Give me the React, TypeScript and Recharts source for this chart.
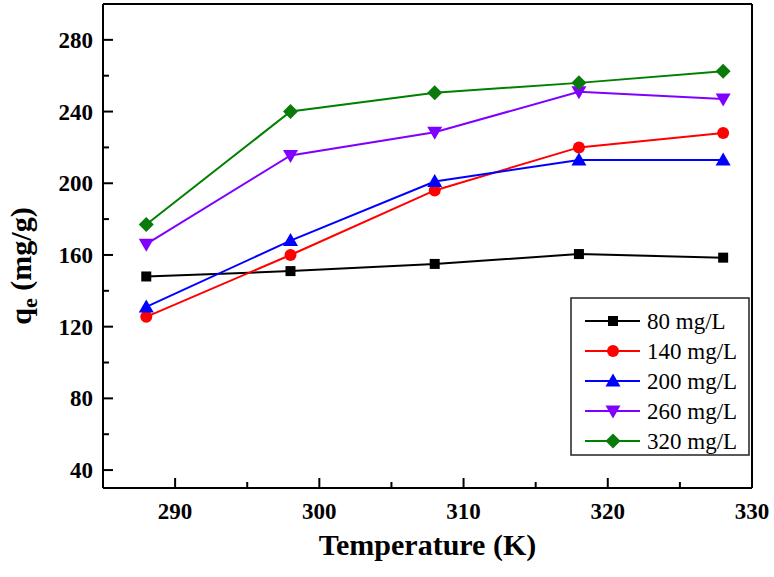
import React from 'react';
import { LineChart, Line, XAxis, YAxis, Legend, ReferenceLine } from 'recharts';

const temperatures = [288, 298, 308, 318, 328];
const c80 = [148, 151, 155, 160.5, 158.5];
const c140 = [125.5, 160, 196, 220, 228];
const c200 = [131, 168, 201, 213, 213];
const c260 = [166, 215.5, 228.5, 251, 247];
const c320 = [177, 240, 250.5, 256, 262.5];

const seriesNames = ['80 mg/L', '140 mg/L', '200 mg/L', '260 mg/L', '320 mg/L'];
const seriesKeys = ['c80', 'c140', 'c200', 'c260', 'c320'];
const seriesValues = [c80, c140, c200, c260, c320];
const seriesColors = ['#000000', '#ff0000', '#0000ff', '#8000ff', '#008000'];
const markerFills = ['#000000', '#ff0000', '#0000ff', '#8000ff', '#0a7a0a'];
const seriesShapes = ['square', 'circle', 'triangle', 'down', 'diamond'];

const xTicks = [290, 295, 300, 305, 310, 315, 320, 325, 330];
const yTicks = [40, 60, 80, 100, 120, 140, 160, 180, 200, 220, 240, 260, 280];
const xDomain = [285, 330];
const yDomain = [30, 300];

const data = temperatures.map((t, i) => {
  const row: any = { t };
  seriesKeys.forEach((k, j) => {
    row[k] = seriesValues[j][i];
  });
  return row;
});

const FONT = "'Liberation Serif', 'Times New Roman', Times, serif";
const TICK_SIZE = 6;
const TICK_MARGIN = 2;
const OFF = TICK_SIZE + TICK_MARGIN;

function Marker({ shape, cx, cy, color }: any) {
  if (cx == null || cy == null) return null;
  switch (shape) {
    case 'square':
      return <rect x={cx - 5} y={cy - 5} width={10} height={10} fill={color} />;
    case 'circle':
      return <circle cx={cx} cy={cy} r={6} fill={color} />;
    case 'triangle':
      return <polygon points={`${cx},${cy - 7.5} ${cx + 7.5},${cy + 5.5} ${cx - 7.5},${cy + 5.5}`} fill={color} />;
    case 'down':
      return <polygon points={`${cx},${cy + 7.5} ${cx + 7.5},${cy - 5.5} ${cx - 7.5},${cy - 5.5}`} fill={color} />;
    case 'diamond':
      return <polygon points={`${cx},${cy - 7.5} ${cx + 7.5},${cy} ${cx},${cy + 7.5} ${cx - 7.5},${cy}`} fill={color} />;
    default:
      return null;
  }
}

const XTick = (props: any) => {
  const { x, y, payload } = props;
  const v = payload.value;
  const major = v % 10 === 0;
  const ay = y - OFF;
  return (
    <g>
      <line x1={x} x2={x} y1={ay} y2={ay - (major ? 10 : 6)} stroke="#000" strokeWidth={2} />
      {major && (
        <text x={x} y={ay + 31} textAnchor="middle" style={{ fontFamily: FONT, fontWeight: 'bold', fontSize: 23 }} fill="#000">
          {v}
        </text>
      )}
    </g>
  );
};

const YTick = (props: any) => {
  const { x, y, payload } = props;
  const v = payload.value;
  const major = v % 40 === 0;
  const ax = x + OFF;
  return (
    <g>
      <line x1={ax} x2={ax + (major ? 10 : 6)} y1={y} y2={y} stroke="#000" strokeWidth={2} />
      {major && (
        <text x={ax - 10} y={y + 8} textAnchor="end" style={{ fontFamily: FONT, fontWeight: 'bold', fontSize: 23 }} fill="#000">
          {v}
        </text>
      )}
    </g>
  );
};

const XLabel = (props: any) => {
  const vb = props.viewBox || {};
  const cx = vb.x + vb.width / 2;
  return (
    <text x={cx} y={vb.y + 67} textAnchor="middle" style={{ fontFamily: FONT, fontWeight: 'bold', fontSize: 30 }} fill="#000">
      Temperature (K)
    </text>
  );
};

const YLabel = (props: any) => {
  const vb = props.viewBox || {};
  const cy = vb.y + vb.height / 2 + 20;
  const x = 31;
  return (
    <text
      x={x}
      y={cy}
      transform={`rotate(-90, ${x}, ${cy})`}
      textAnchor="middle"
      style={{ fontFamily: FONT, fontWeight: 'bold', fontSize: 30 }}
      fill="#000"
    >
      q<tspan style={{ fontSize: 22 }} dy={6}>e</tspan>
      <tspan dy={-6}> (mg/g)</tspan>
    </text>
  );
};

const LegendBox = () => {
  const rowH = 30;
  return (
    <svg width={181} height={160} style={{ display: 'block' }}>
      <rect x={1} y={1} width={178} height={157} fill="#fff" stroke="#222" strokeWidth={1.5} />
      {seriesNames.map((name, i) => {
        const cy = 24 + i * rowH;
        return (
          <g key={name}>
            <line x1={15} x2={70} y1={cy} y2={cy} stroke={seriesColors[i]} strokeWidth={2} />
            <Marker shape={seriesShapes[i]} cx={43} cy={cy} color={markerFills[i]} />
            <text x={77} y={cy + 8} style={{ fontFamily: FONT, fontSize: 23 }} fill="#000">
              {name}
            </text>
          </g>
        );
      })}
    </svg>
  );
};

export default function App() {
  return (
    <div style={{ position: 'absolute', left: 0, top: 0, width: 774, height: 577, background: '#fff', fontFamily: FONT }}>
      <LineChart width={774} height={577} data={data} margin={{ top: 4, right: 22, bottom: 0, left: 0 }}>
        <XAxis
          dataKey="t"
          type="number"
          domain={xDomain}
          ticks={xTicks}
          interval={0}
          allowDataOverflow
          height={89}
          tickSize={TICK_SIZE}
          tickMargin={TICK_MARGIN}
          tickLine={false}
          tick={<XTick />}
          axisLine={{ stroke: '#000', strokeWidth: 2 }}
          label={<XLabel />}
        />
        <YAxis
          type="number"
          domain={yDomain}
          ticks={yTicks}
          interval={0}
          allowDataOverflow
          width={103}
          tickSize={TICK_SIZE}
          tickMargin={TICK_MARGIN}
          tickLine={false}
          tick={<YTick />}
          axisLine={{ stroke: '#000', strokeWidth: 2 }}
          label={<YLabel />}
        />
        <ReferenceLine y={yDomain[1]} stroke="#000" strokeWidth={2} />
        <ReferenceLine x={xDomain[1]} stroke="#000" strokeWidth={2} />
        {seriesKeys.map((k, i) => (
          <Line
            key={k}
            dataKey={k}
            name={seriesNames[i]}
            stroke={seriesColors[i]}
            strokeWidth={2}
            isAnimationActive={false}
            dot={(p: any) => (
              <Marker key={`${k}-${p.index}`} shape={seriesShapes[i]} cx={p.cx} cy={p.cy} color={markerFills[i]} />
            )}
            activeDot={false}
          />
        ))}
        <Legend
          layout="vertical"
          align="center"
          verticalAlign="middle"
          content={() => <LegendBox />}
          wrapperStyle={{ position: 'absolute', left: 570, top: 297, width: 181, height: 160 }}
        />
      </LineChart>
    </div>
  );
}
